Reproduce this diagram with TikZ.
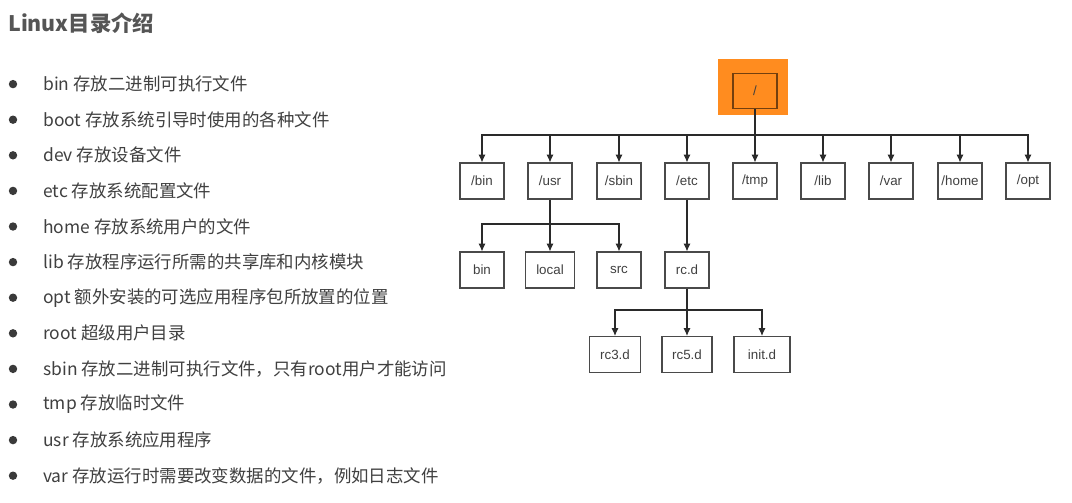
\documentclass[tikz,border=0pt]{standalone}
\usepackage{fontspec}
\setmainfont{Liberation Sans}
\newfontfamily\cjk{Noto Sans CJK SC}
\usetikzlibrary{positioning,arrows.meta}
\definecolor{title}{HTML}{555555}
\definecolor{body}{HTML}{404040}
\definecolor{rootfill}{HTML}{FF8C1F}
\definecolor{treeline}{HTML}{2A2A2A}

\begin{document}
\begin{tikzpicture}[x=0.025cm, y=-0.025cm,
    dir/.style={draw=treeline!85, line width=0.75pt, minimum width=1.1cm, minimum height=0.9cm,
                inner sep=1pt, font=\fontsize{9.5}{11}\selectfont, text=body},
    rootbg/.style={fill=rootfill, minimum width=1.75cm, minimum height=1.375cm, inner sep=0pt},
    arrow/.style={-{Latex[length=5.5pt,width=5pt]}, draw=treeline, line width=0.8pt},
    item/.style={anchor=west, font=\cjk\fontsize{12.4}{15}\selectfont, text=body, inner sep=0pt},
    dot/.style={circle, fill=body!90!black, minimum size=0.21cm, inner sep=0pt}
  ]
    \useasboundingbox (0,0) rectangle (1072,502);
    \fill[white] (0,0) rectangle (1072,502);

    % title and list
    \node[anchor=west, inner sep=0pt, font=\cjk\bfseries\fontsize{15.2}{18}\selectfont, text=title]
      (head) at (8,23) {Linux目录介绍};
    \foreach \t [count=\i] in {bin 存放二进制可执行文件, boot 存放系统引导时使用的各种文件,
        dev 存放设备文件, etc 存放系统配置文件, home 存放系统用户的文件,
        lib 存放程序运行所需的共享库和内核模块, opt 额外安装的可选应用程序包所放置的位置,
        root 超级用户目录, sbin 存放二进制可执行文件，只有root用户才能访问,
        tmp 存放临时文件, usr 存放系统应用程序, var 存放运行时需要改变数据的文件，例如日志文件} {
      \node[dot] (dot\i) at (13, 48.5+35.6*\i) {};
      \node[item] (item\i) at (43, 48.5+35.6*\i) {\t};
    }

    % root
    \node[rootbg] (rootbg) at (753,87) {};
    \node[dir, draw=rootfill!45!black, minimum height=0.875cm] (root) at (755,91) {/};

    % first level
    \node[dir] (bin) at (482,181) {/bin};
    \node[dir] (usr) at (550,181) {/usr};
    \node[dir] (sbin) at (619,181) {/sbin};
    \node[dir] (etc) at (687,181) {/etc};
    \node[dir] (tmp) at (755,181) {/tmp};
    \node[dir] (lib) at (823,181) {/lib};
    \node[dir] (var) at (891,181) {/var};
    \node[dir] (home) at (960,181) {/home};
    \node[dir] (opt) at (1028,181) {/opt};

    % second level
    \node[dir] (ubin) at (482,270) {bin};
    \node[dir, minimum width=1.225cm] (local) at (550,270) {local};
    \node[dir] (src) at (619,270) {src};
    \node[dir] (rcd) at (687,270) {rc.d};

    % third level
    \node[dir, minimum width=1.275cm] (rc3) at (615,354.5) {rc3.d};
    \node[dir, minimum width=1.25cm] (rc5) at (687,354.5) {rc5.d};
    \node[dir, minimum width=1.4cm] (init) at (762,354.5) {init.d};

    % connectors
    \coordinate (topbus) at (755,135);
    \coordinate (usrbus) at (550,224);
    \coordinate (rcbus) at (687,310);
    \draw[arrow] (root) -- (tmp);
    \foreach \n in {bin,usr,sbin,etc,lib,var,home,opt}
      \draw[arrow] (topbus) -| (\n);
    \draw[arrow] (usr) -- (local);
    \draw[arrow] (usrbus) -| (ubin);
    \draw[arrow] (usrbus) -| (src);
    \draw[arrow] (etc) -- (rcd);
    \draw[arrow] (rcd) -- (rc5);
    \draw[arrow] (rcbus) -| (rc3);
    \draw[arrow] (rcbus) -| (init);
  \end{tikzpicture}
\end{document}
